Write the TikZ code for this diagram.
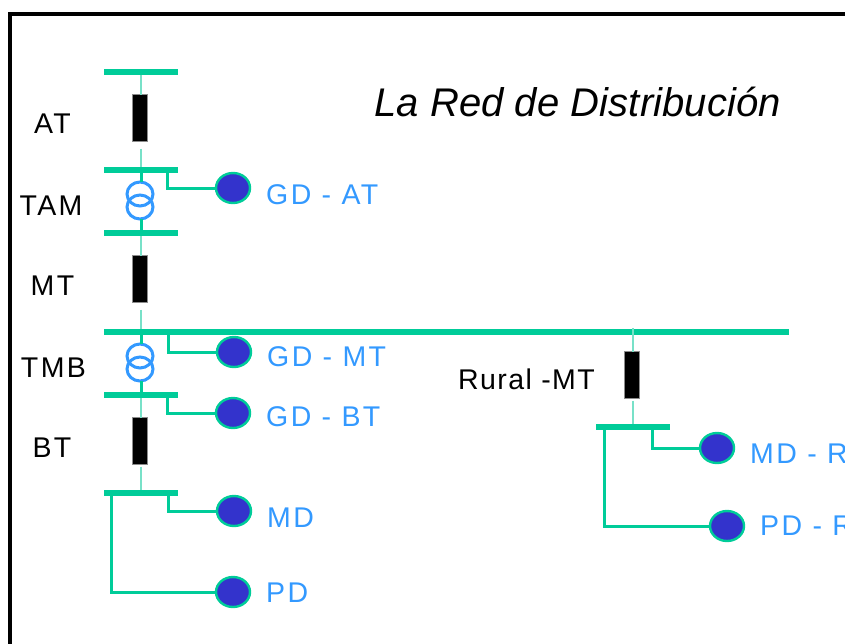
\documentclass[tikz,border=0pt]{standalone}
\usepackage{fontspec}
\setmainfont{Liberation Sans}
\newfontfamily\spacedfont[LetterSpace=8.5]{Liberation Sans}
\newfontfamily\ruralfont[LetterSpace=5]{Liberation Sans}
\newfontfamily\titlefont[LetterSpace=0.3]{Liberation Sans}
\usepackage{xcolor}
\usetikzlibrary{positioning,shapes.geometric}
\definecolor{busgreen}{RGB}{0,204,153}
\definecolor{tapgreen}{RGB}{120,225,200}
\definecolor{loadblue}{RGB}{51,51,204}
\definecolor{skyblue}{RGB}{51,153,255}
\tikzset{
  busbar/.style={rectangle, fill=busgreen, inner sep=0pt, outer sep=0pt, minimum height=6pt},
  fuse/.style={rectangle, fill=black, draw=black!45, line width=0.5pt, inner sep=0pt, outer sep=0pt, minimum width=15pt, minimum height=47pt},
  winding/.style={ellipse, draw=skyblue, line width=3pt, inner sep=0pt, outer sep=0pt, minimum width=26pt, minimum height=24pt},
  load/.style={ellipse, fill=loadblue, draw=busgreen, line width=2.4pt, inner sep=0pt, outer sep=0pt, minimum width=34pt, minimum height=30pt},
  feeder/.style={draw=busgreen, line width=3pt},
  tap/.style={draw=tapgreen, line width=1.5pt},
  levellabel/.style={anchor=base, font=\spacedfont\fontsize{28.5}{32}\selectfont, text=black, inner sep=0pt},
  loadlabel/.style={anchor=base west, font=\spacedfont\fontsize{28.5}{32}\selectfont, text=skyblue, inner sep=0pt}
}
\begin{document}
\begin{tikzpicture}[x=1pt, y=-1pt]
\useasboundingbox (0,0) rectangle (845,643);
% frame runs off the page on the right and at the bottom
\draw[line width=4pt] (10,660) -- (10,14) -- (860,14);
% bars
\foreach \name/\x/\y/\w in {ba/141/72/74, bb/141/170/74, bc/141/233/74, bd/446.5/332/685, be/141/395/74, bf/141/493/74, bg/633/427/74} {
  \node[busbar, minimum width=\w pt] (\name) at (\x,\y) {};
}
% black boxes on the lines
\node[fuse] (fat) at (140,118) {};
\node[fuse] (fmt) at (140,279) {};
\node[fuse] (fbt) at (140,441) {};
\node[fuse] (frm) at (632,375) {};
\coordinate (rtop) at (633,328);
% thin links
\draw[tap] ([xshift=1pt]fat.north) -- ([xshift=1pt]fat.north |- ba.south);
\draw[tap, shorten <=7pt] ([xshift=1pt]fat.south) -- ([xshift=1pt]fat.south |- bb.north);
\draw[tap] ([xshift=1pt]fmt.north) -- ([xshift=1pt]fmt.north |- bc.south);
\draw[tap, shorten <=7pt] ([xshift=1pt]fmt.south) -- ([xshift=1pt]fmt.south |- bd.north);
\draw[tap] ([xshift=1pt]fbt.north) -- ([xshift=1pt]fbt.north |- be.south);
\draw[tap, shorten <=2pt] ([xshift=1pt]fbt.south) -- ([xshift=1pt]fbt.south |- bf.north);
\draw[tap] (rtop) -- ([xshift=1pt]frm.north);
\draw[tap, shorten <=2pt] ([xshift=1pt]frm.south) -- ([xshift=1pt]frm.south |- bg.north);
% transformers
\node[winding] (tamh) at (140,194) {};
\node[winding] (taml) at (140,207) {};
\node[winding] (tmbh) at (140,356) {};
\node[winding] (tmbl) at (140,369) {};
\draw[feeder] (bb.south) -- ([xshift=1pt]tamh.north);
\draw[feeder] ([xshift=1pt]taml.south) -- (bc.north);
\draw[feeder] ([xshift=1pt]tmbh.north) -- ([xshift=1pt]tmbh.north |- bd.south);
\draw[feeder] ([xshift=1pt]tmbl.south) -- (be.north);
% loads
\foreach \name/\x/\y in {gdat/233/188, gdmt/234/352, gdbt/233/413, md/234/511, pd/233/592, mdr/717/448, pdr/727/526} {
  \node[load] (\name) at (\x,\y) {};
}
\draw[feeder] ([xshift=26pt]bb.center) |- (gdat);
\draw[feeder] ([xshift=-278pt]bd.center) |- (gdmt);
\draw[feeder] ([xshift=26pt]be.center) |- (gdbt);
\draw[feeder] ([xshift=27.5pt]bf.center) |- (md);
\draw[feeder] ([xshift=-30pt]bf.center) |- (pd);
\draw[feeder] ([xshift=19pt]bg.center) |- (mdr);
\draw[feeder] ([xshift=-29pt]bg.center) |- (pdr);
% level names
\node[levellabel] (lat) at (52.5,133.5) {AT};
\node[levellabel] (ltam) at (51,215) {TAM};
\node[levellabel] (lmt) at (52.5,295) {MT};
\node[levellabel] (ltmb) at (53.5,377) {TMB};
\node[levellabel] (lbt) at (52,457) {BT};
\node[levellabel, font=\ruralfont\fontsize{28.5}{32}\selectfont] (lrm) at (526.5,389) {Rural -MT};
% load names
\node[loadlabel] (tgdat) at (266,204) {GD - AT};
\node[loadlabel] (tgdmt) at (267,366) {GD - MT};
\node[loadlabel] (tgdbt) at (266,426) {GD - BT};
\node[loadlabel] (tmd) at (267,527) {MD};
\node[loadlabel] (tpd) at (266,602) {PD};
\node[loadlabel] (tmdr) at (750,463) {MD - R};
\node[loadlabel] (tpdr) at (760,535) {PD - R};
% title
\node[anchor=base west, inner sep=0pt, font=\titlefont\itshape\fontsize{40}{44}\selectfont] (title) at (374,116) {La Red de Distribución};
\end{tikzpicture}
\end{document}
